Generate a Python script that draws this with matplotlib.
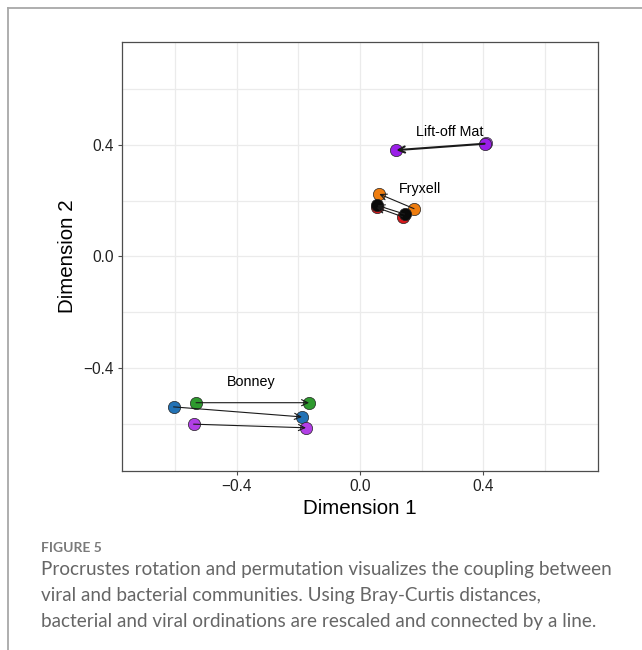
import matplotlib
matplotlib.use("Agg")
import matplotlib.pyplot as plt
from matplotlib.lines import Line2D

# ---- data ----
groups = ["Bonney", "Bonney", "Bonney", "Fryxell", "Fryxell", "Fryxell", "Lift-off Mat"]
tail_x = [-0.531, -0.604, -0.539, 0.175, 0.138, 0.1445, 0.4036]
tail_y = [-0.525, -0.540, -0.602, 0.171, 0.142, 0.1516, 0.404]
head_x = [-0.165, -0.188, -0.175, 0.0625, 0.054, 0.056, 0.1176]
head_y = [-0.525, -0.576, -0.615, 0.2235, 0.1753, 0.1825, 0.381]
point_colors = ["#2E9A2E", "#2272B5", "#B23FE6", "#EE7D10", "#D7191C", "#0A0A0A", "#9A1FE8"]
arrow_widths = [0.8, 0.8, 0.8, 0.8, 0.8, 0.8, 1.5]
extra_x = [0.409]
extra_y = [0.407]
extra_colors = ["#A64CE0"]

label_text = ["Lift-off Mat", "Fryxell", "Bonney"]
label_x = [0.289, 0.195, -0.352]
label_y = [0.447, 0.242, -0.449]

ticks = [-0.4, 0.0, 0.4]
tick_labels = ["\u22120.4", "0.0", "0.4"]
grid_vals = [-0.6, -0.4, -0.2, 0.0, 0.2, 0.4, 0.6]

caption_head = "FIGURE 5"
caption_lines = [
    "Procrustes rotation and permutation visualizes the coupling between",
    "viral and bacterial communities. Using Bray-Curtis distances,",
    "bacterial and viral ordinations are rescaled and connected by a line.",
]

W, H = 642, 650
fig = plt.figure(figsize=(W / 100, H / 100), dpi=100)
fig.patch.set_facecolor("white")

# outer frame lines
fig.add_artist(Line2D([8 / W, 8 / W], [0, 1 - 8 / H], transform=fig.transFigure,
                      color="#a8a8a8", lw=1.3))
fig.add_artist(Line2D([8 / W, 1], [1 - 8 / H, 1 - 8 / H], transform=fig.transFigure,
                      color="#a8a8a8", lw=1.3))

ax = fig.add_axes([122.3 / W, 1 - 471 / H, (597.7 - 122.3) / W, (471 - 41.7) / H])
ax.set_xlim(-0.77, 0.77)
ax.set_ylim(-0.77, 0.77)
ax.set_facecolor("white")
for g in grid_vals:
    ax.axvline(g, color="#ebebeb", lw=0.9, zorder=0)
    ax.axhline(g, color="#ebebeb", lw=0.9, zorder=0)

for s in ax.spines.values():
    s.set_color("#4d4d4d")
    s.set_linewidth(0.9)

ax.set_xticks(ticks)
ax.set_xticklabels(tick_labels)
ax.set_yticks(ticks)
ax.set_yticklabels(tick_labels)
ax.tick_params(axis="both", length=3, width=0.8, color="#4d4d4d",
               labelsize=11.2, labelcolor="#222222", pad=3)
for t in ax.get_xticklabels() + ax.get_yticklabels():
    t.set_family("Liberation Sans")

ax.set_xlabel("Dimension 1", family="Liberation Sans", fontsize=14.8, color="black", labelpad=3)
ax.set_ylabel("Dimension 2", family="Liberation Sans", fontsize=14.8, color="black", labelpad=5)

# points
ax.scatter(extra_x, extra_y, s=78, c=extra_colors, edgecolors="#333333", linewidths=0.5, zorder=3)
for tx, ty, hx, hy, c in zip(tail_x, tail_y, head_x, head_y, point_colors):
    ax.scatter([tx, hx], [ty, hy], s=78, c=c, edgecolors="#222222", linewidths=0.5, zorder=3)

# arrows
for tx, ty, hx, hy, lw in zip(tail_x, tail_y, head_x, head_y, arrow_widths):
    ax.annotate("", xy=(hx, hy), xytext=(tx, ty),
                arrowprops=dict(arrowstyle="->,head_length=0.45,head_width=0.22",
                                color="#1a1a1a", lw=lw, shrinkA=0, shrinkB=0),
                zorder=4)

for t, x, y in zip(label_text, label_x, label_y):
    ax.text(x, y, t, ha="center", va="center", fontsize=10.3, family="Liberation Sans",
            color="black", zorder=5)

# caption
fig.text(41 / W, 1 - 548 / H, caption_head, fontsize=10, family="Lato", weight="bold",
         color="#7a7a7a", va="center", ha="left")
for i, line in enumerate(caption_lines):
    fig.text(41 / W, 1 - (569 + 26.3 * i) / H, line, fontsize=13.6, family="Lato",
             color="#666666", va="center", ha="left")

fig.savefig("out.png", dpi=100, facecolor="white")
